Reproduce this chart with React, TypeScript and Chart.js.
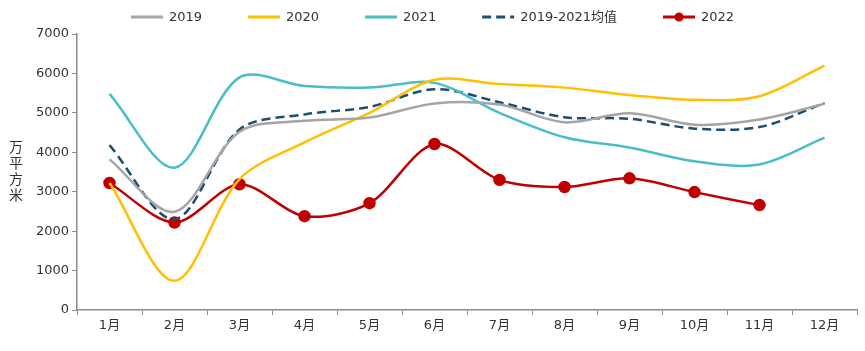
import React, { useEffect, useRef } from "react";
import { Chart, registerables } from "chart.js";

Chart.register(...registerables);

const months = ["1月", "2月", "3月", "4月", "5月", "6月", "7月", "8月", "9月", "10月", "11月", "12月"];
const y2019 = [3820, 2490, 4520, 4800, 4880, 5240, 5210, 4760, 4990, 4700, 4830, 5230];
const y2020 = [3220, 740, 3320, 4250, 5000, 5840, 5730, 5640, 5450, 5330, 5420, 6200];
const y2021 = [5480, 3610, 5900, 5680, 5640, 5760, 5000, 4380, 4120, 3770, 3690, 4370];
const yAvg = [4180, 2300, 4580, 4960, 5150, 5600, 5270, 4890, 4850, 4600, 4640, 5250];
const y2022 = [3220, 2220, 3190, 2380, 2710, 4210, 3300, 3120, 3340, 2990, 2660, null];
const seriesNames = ["2019", "2020", "2021", "2019-2021均值", "2022"];
const yTicks = [0, 1000, 2000, 3000, 4000, 5000, 6000, 7000];
const yTitle = "万平方米";

const FONT = "'DejaVu Sans', 'Noto Sans CJK SC', sans-serif";
const TXT = "#333333";
const AXIS = "#8c8c8c";

export default function App() {
  const ref = useRef<HTMLCanvasElement | null>(null);

  useEffect(() => {
    if (!ref.current) return;
    const LINE_W = 32;
    const TEXT_GAP = 6;
    const ITEM_GAP = 46;
    const LEGEND_Y = 17;
    const topLegend = {
      id: "topLegend",
      afterDraw(chart: any) {
        const ctx = chart.ctx;
        const dsets = chart.data.datasets;
        ctx.save();
        ctx.font = `13px ${FONT}`;
        const widths = dsets.map((d: any) => LINE_W + TEXT_GAP + ctx.measureText(d.label).width);
        const total = widths.reduce((a: number, b: number) => a + b, 0) + ITEM_GAP * (dsets.length - 1);
        let x = (chart.width - total) / 2;
        dsets.forEach((d: any, i: number) => {
          ctx.strokeStyle = d.borderColor;
          ctx.lineWidth = 3;
          ctx.setLineDash(d.borderDash || []);
          ctx.beginPath();
          ctx.moveTo(x, LEGEND_Y);
          ctx.lineTo(x + LINE_W, LEGEND_Y);
          ctx.stroke();
          ctx.setLineDash([]);
          if (d.pointRadius > 0) {
            ctx.fillStyle = d.pointBackgroundColor;
            ctx.beginPath();
            ctx.arc(x + LINE_W / 2, LEGEND_Y, 4.5, 0, Math.PI * 2);
            ctx.fill();
          }
          ctx.fillStyle = TXT;
          ctx.textBaseline = "middle";
          ctx.textAlign = "left";
          ctx.fillText(d.label, x + LINE_W + TEXT_GAP, LEGEND_Y + 1);
          x += widths[i] + ITEM_GAP;
        });
        ctx.restore();
      },
    };
    const mk = (label: string, data: any[], color: string, extra: any = {}) => ({
      label,
      data,
      borderColor: color,
      backgroundColor: color,
      borderWidth: 2.5,
      pointRadius: 0,
      tension: 0.32,
      fill: false,
      ...extra,
    });
    const chart = new Chart(ref.current, {
      type: "line",
      data: {
        labels: months,
        datasets: [
          mk(seriesNames[0], y2019, "#A5A5A5"),
          mk(seriesNames[1], y2020, "#FFC000"),
          mk(seriesNames[2], y2021, "#4BBDC7"),
          mk(seriesNames[3], yAvg, "#1B4F72", { borderDash: [9, 5] }),
          mk(seriesNames[4], y2022, "#C00000", {
            pointRadius: 5,
            pointBackgroundColor: "#C00000",
            pointBorderColor: "#C00000",
            tension: 0.3,
          }),
        ],
      },
      options: {
        animation: false,
        responsive: false,
        maintainAspectRatio: false,
        layout: { padding: { left: 0, right: 8, top: 34, bottom: 0 } },
        plugins: {
          tooltip: { enabled: false },
          legend: { display: false },
        },
        scales: {
          x: {
            type: "category",
            offset: true,
            grid: { display: true, drawOnChartArea: false, offset: true, tickLength: 5, color: AXIS },
            border: { display: true, color: AXIS, width: 1.5 },
            ticks: { color: TXT, font: { family: FONT, size: 13 }, padding: 3, maxRotation: 0, autoSkip: false },
            afterFit(scale: any) { scale.height = 41; },
          },
          y: {
            min: 0,
            max: 7000,
            afterBuildTicks(scale: any) { scale.ticks = yTicks.map((v) => ({ value: v })); },
            grid: { display: true, drawOnChartArea: false, tickLength: 5, color: AXIS },
            border: { display: true, color: AXIS, width: 1.5 },
            ticks: {
              color: TXT,
              font: { family: FONT, size: 13 },
              padding: 3,
              callback: (v: any) => String(v),
            },
            afterFit(scale: any) { scale.width = 77; },
          },
        },
      },
      plugins: [topLegend],
    } as any);
    return () => chart.destroy();
  }, []);

  return (
    <div style={{ position: "fixed", left: 0, top: 0, width: 865, height: 351, background: "#fff" }}>
      <canvas ref={ref} width={865} height={351} style={{ display: "block", width: 865, height: 351 }} />
      <div
        style={{
          position: "absolute",
          left: 8,
          top: 140,
          writingMode: "vertical-rl",
          fontFamily: "'Noto Sans CJK SC', sans-serif",
          fontSize: 14,
          color: TXT,
          lineHeight: "16px",
          letterSpacing: "2px",
        }}
      >
        {yTitle}
      </div>
    </div>
  );
}
